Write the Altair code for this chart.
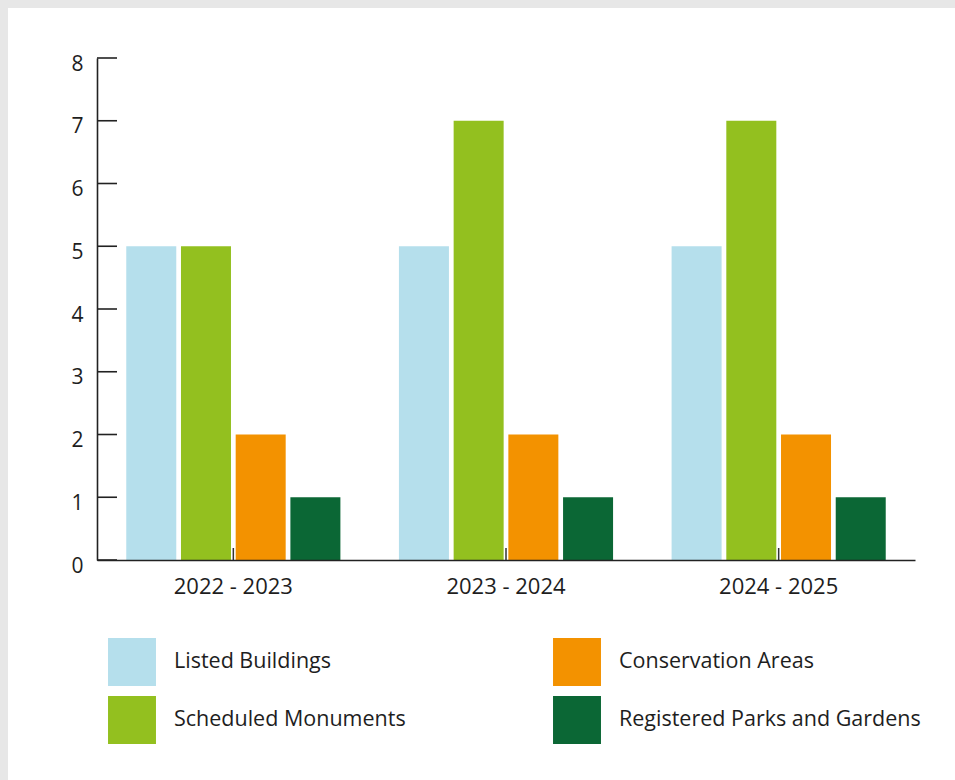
import altair as alt
import pandas as pd

periods = ["2022 - 2023", "2023 - 2024", "2024 - 2025"]
designations = ["Listed Buildings", "Scheduled Monuments", "Conservation Areas", "Registered Parks and Gardens"]
listed = [5, 5, 5]
scheduled = [5, 7, 7]
conservation = [2, 2, 2]
registered = [1, 1, 1]
colors = ["#b5dfec", "#93c01f", "#f39200", "#0b6735"]
y_ticks = [0, 1, 2, 3, 4, 5, 6, 7, 8]

rows = []
for name, vals in zip(designations, [listed, scheduled, conservation, registered]):
    for p, v in zip(periods, vals):
        rows.append({"period": p, "designation": name, "count": v})
df = pd.DataFrame(rows)

W, H = 818, 502
FONT = "Open Sans"
TXT = "#1e1e1e"

panel = alt.Chart(pd.DataFrame({"a": [0]})).mark_rect(color="white").encode(
    x=alt.value(-89), x2=alt.value(858), y=alt.value(-50), y2=alt.value(722)
)

bars = alt.Chart(df).mark_bar().encode(
    x=alt.X(
        "period:N",
        sort=periods,
        scale=alt.Scale(paddingInner=0, paddingOuter=0),
        axis=alt.Axis(
            title=None, labelAngle=0, ticks=False, tickSize=0, labelPadding=16,
            labelFontSize=22, labelFont=FONT, labelColor=TXT,
            domainColor="#222", domainWidth=1.6, zindex=2,
        ),
    ),
    xOffset=alt.XOffset(
        "designation:N", sort=designations,
        scale=alt.Scale(paddingInner=0.086, paddingOuter=0.535),
    ),
    y=alt.Y(
        "count:Q",
        scale=alt.Scale(domain=[0, 8], nice=False),
        axis=alt.Axis(
            values=y_ticks, format="d", title=None, ticks=False, tickSize=0, grid=False,
            labelPadding=14, labelOffset=6, labelFontSize=21, labelFont=FONT, labelColor=TXT,
            domainColor="#222", domainWidth=1.6, zindex=2,
        ),
    ),
    color=alt.Color(
        "designation:N",
        scale=alt.Scale(domain=designations, range=colors),
        legend=alt.Legend(
            title=None, orient="none", legendX=11, legendY=580, columns=2,
            columnPadding=147, rowPadding=10, symbolType="square", symbolSize=2300,
            symbolStrokeWidth=0, symbolOpacity=1, labelFontSize=21.5, labelFont=FONT,
            labelColor=TXT, labelOffset=18, padding=0, labelLimit=400,
        ),
    ),
)

ytick_df = pd.DataFrame({"count": y_ticks})
yticks = alt.Chart(ytick_df).mark_rule(color="#222", strokeWidth=1.6).encode(
    y="count:Q", x=alt.value(0), x2=alt.value(20)
)

xtick_df = pd.DataFrame({"period": periods})
xticks = alt.Chart(xtick_df).mark_rule(color="#333", strokeWidth=1.5).encode(
    x=alt.X("period:N", sort=periods), y=alt.value(H - 12), y2=alt.value(H)
)

chart = alt.layer(panel, bars, xticks, yticks).properties(
    width=W, height=H,
    background="#e7e7e7",
    padding={"left": 8, "top": 8, "right": 0, "bottom": 0},
).configure_view(stroke=None)

chart.save("out.html", embed_options={"renderer": "svg", "actions": False})
